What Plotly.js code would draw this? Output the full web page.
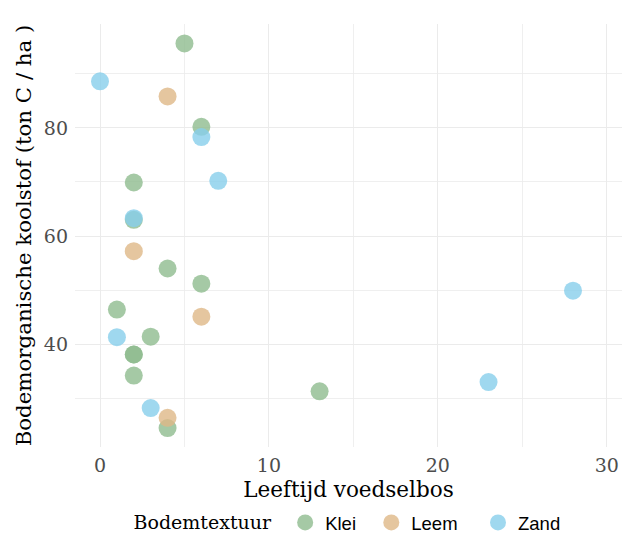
<!DOCTYPE html>
<html>
<head>
<meta charset="utf-8">
<script src="https://cdn.plot.ly/plotly-3.0.1.min.js"></script>
<style>html,body{margin:0;padding:0;background:#fff;}#chart{width:625px;height:533px;}</style>
</head>
<body>
<div id="chart"></div>
<script>
const categories = ["Klei", "Leem", "Zand"];
const kleiAge = [5, 6, 2, 2, 4, 6, 1, 3, 2, 2, 2, 13, 4];
const kleiCarbon = [95.6, 80.2, 69.9, 63.0, 54.0, 51.2, 46.4, 41.4, 38.1, 38.1, 34.2, 31.3, 24.5];
const leemAge = [4, 2, 6, 4];
const leemCarbon = [85.8, 57.2, 45.1, 26.4];
const zandAge = [0, 6, 7, 2, 1, 3, 28, 23];
const zandCarbon = [88.6, 78.3, 70.2, 63.3, 41.3, 28.2, 49.9, 33.0];
const colors = ["rgba(143,188,143,0.8)", "rgba(222,184,135,0.8)", "rgba(135,206,235,0.8)"];

const serif = "DejaVu Serif";
const NB = "\u00a0";
const pad = [NB + NB, NB + NB + NB, ""];
const xs = [kleiAge, leemAge, zandAge];
const ys = [kleiCarbon, leemCarbon, zandCarbon];
const traces = categories.map((c, i) => ({
  type: "scatter", mode: "markers", name: c + pad[i],
  x: xs[i], y: ys[i],
  marker: {size: 18, color: colors[i], line: {width: 0}},
  hoverinfo: "skip"
}));

const layout = {
  width: 625, height: 533,
  margin: {l: 75, r: 3, t: 24, b: 86},
  paper_bgcolor: "#fff", plot_bgcolor: "#fff",
  showlegend: true,
  xaxis: {
    range: [-1.48, 30.9], tickvals: [0, 10, 20, 30], ticks: "", ticklabelstandoff: 5,
    showgrid: true, gridcolor: "#ebebeb", gridwidth: 1, zeroline: false, showline: false,
    minor: {tickvals: [5, 15, 25], showgrid: true, gridcolor: "#ebebeb", gridwidth: 0.8},
    tickfont: {family: serif, size: 19, color: "#4d4d4d"},
    title: {text: "Leeftijd voedselbos", font: {family: serif, size: 21.5, color: "#000"}, standoff: 6}
  },
  yaxis: {
    range: [21.0, 99.2], tickvals: [40, 60, 80], ticks: "", ticklabelstandoff: 6,
    showgrid: true, gridcolor: "#ebebeb", gridwidth: 1, zeroline: false, showline: false,
    minor: {tickvals: [30, 50, 70, 90], showgrid: true, gridcolor: "#ebebeb", gridwidth: 0.8},
    tickfont: {family: serif, size: 19, color: "#4d4d4d"},
    title: {text: "Bodemorganische koolstof (ton C / ha )", font: {family: serif, size: 21.3, color: "#000"}, standoff: 6}
  },
  legend: {
    orientation: "h", x: 0.5, xanchor: "center", xref: "paper",
    y: 0.019, yanchor: "middle", yref: "container",
    title: {text: "Bodemtextuur" + NB, side: "left", font: {family: serif, size: 19, color: "#000"}},
    font: {family: "Liberation Sans, Arial", size: 18.5, color: "#000"},
    itemclick: false, itemdoubleclick: false
  }
};
Plotly.newPlot("chart", traces, layout, {staticPlot: true, displayModeBar: false});
</script>
</body>
</html>
